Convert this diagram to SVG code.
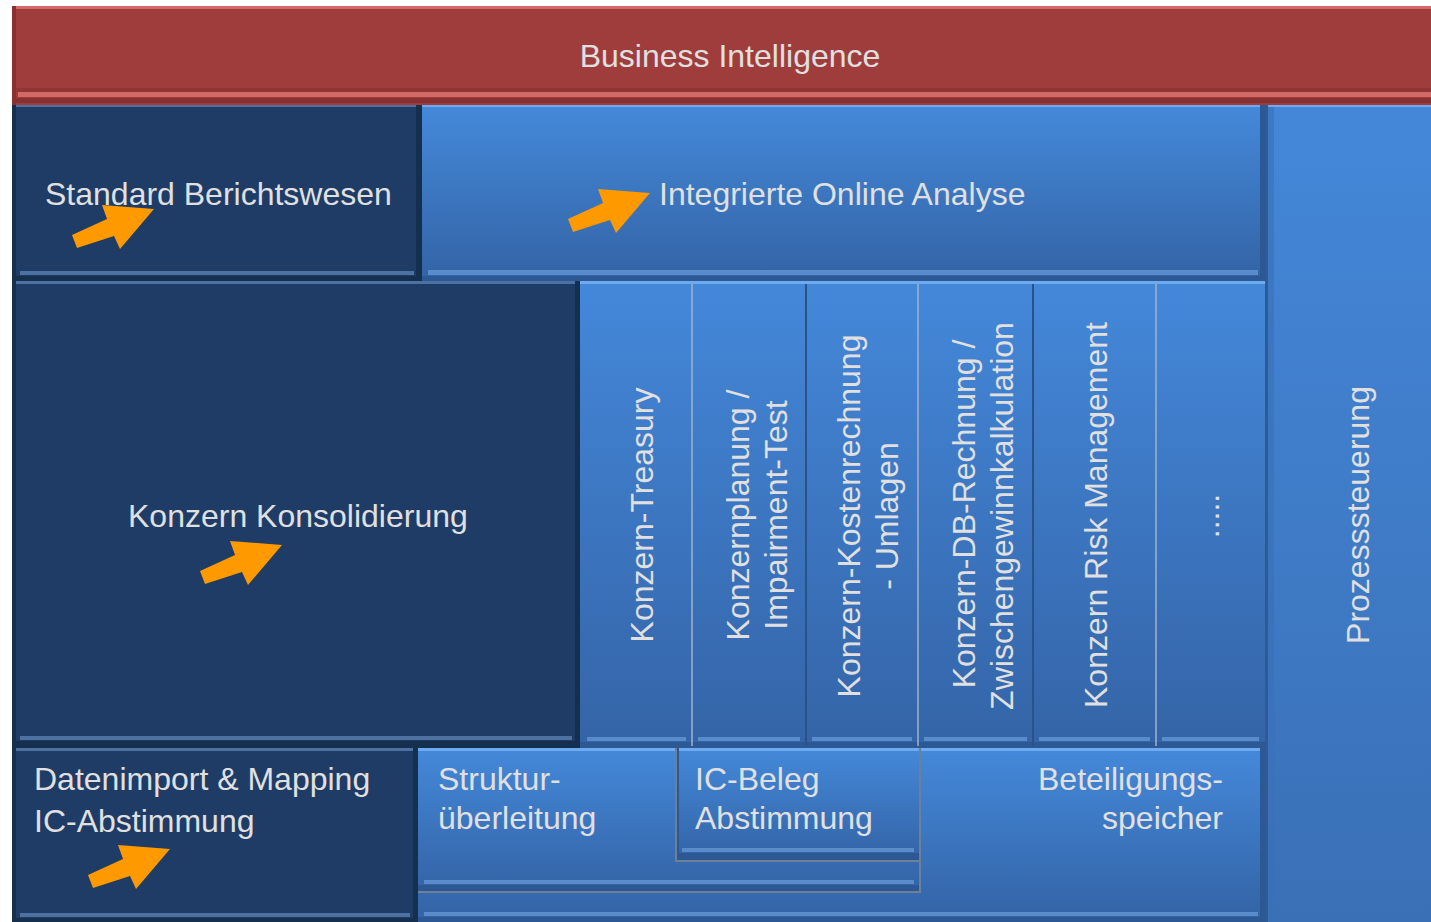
<svg xmlns="http://www.w3.org/2000/svg" width="1431" height="922" viewBox="0 0 1431 922">
<defs>
<linearGradient id="gBlue" x1="0" y1="0" x2="0" y2="1">
<stop offset="0" stop-color="#4489da"/><stop offset="1" stop-color="#3363a5"/>
</linearGradient>
<linearGradient id="gProc" x1="0" y1="0" x2="0" y2="1">
<stop offset="0" stop-color="#4487d9"/><stop offset="1" stop-color="#3a70b6"/>
</linearGradient>
<linearGradient id="gCol" x1="0" y1="0" x2="0" y2="1">
<stop offset="0" stop-color="#4488da"/><stop offset="1" stop-color="#3464a7"/>
</linearGradient>
<polygon id="arrow" points="0,0 -52,-4 -47,10 -82,26 -77,39 -40,27 -34,40"/>
</defs>
<style>
.t{font-family:"Liberation Sans",Arial,sans-serif;font-size:32px;fill:#e0e0e0}
.red{fill:#9f3d3c}.redhl{fill:#d26966}.redsh{fill:#873030}
.dark{fill:#1e3c66}.dkhl{fill:#4d71a0}.dksh{fill:#15304f}
.blue{fill:url(#gBlue)}.col{fill:url(#gCol)}.proc{fill:url(#gProc)}
.bhl{fill:#6eaaf0}.bst{fill:#5a8ccc}.bsh{fill:#2c5894}
.sep{stroke:#9fb3cc;stroke-width:1.5}
.sepd{stroke:#2a5188;stroke-width:2}
.frame{fill:none;stroke:#6f7f96;stroke-width:2}
.arr{fill:#ff9900}
</style>
<rect width="1431" height="922" fill="#ffffff"/>
<rect x="12" y="6" width="1419" height="916" fill="#2a4f82"/>

<g id="business-intelligence">
<rect class="red" x="12" y="6" width="1419" height="99"/>
<rect class="redhl" x="12" y="6" width="1419" height="3"/>
<rect class="redsh" x="12" y="6" width="4" height="99"/>
<rect class="redsh" x="12" y="88" width="1419" height="4" opacity="0.6"/>
<rect class="redhl" x="18" y="92" width="1413" height="5"/>
<rect class="redsh" x="12" y="98" width="1419" height="5"/>
<text class="t" x="730" y="67" text-anchor="middle">Business Intelligence</text>
</g>

<g id="standard-berichtswesen">
<rect class="dark" x="12" y="105" width="410" height="176"/>
<rect class="dkhl" x="12" y="105" width="410" height="2"/>
<rect class="dksh" x="12" y="105" width="4" height="176"/>
<rect class="dksh" x="416" y="105" width="6" height="176"/>
<rect class="dkhl" x="20" y="271" width="394" height="4"/>
<rect class="dksh" x="12" y="276" width="410" height="5"/>
<text class="t" x="45" y="205">Standard Berichtswesen</text>
<use href="#arrow" class="arr" x="154" y="209"/>
</g>

<g id="integrierte-online-analyse">
<rect class="blue" x="422" y="105" width="843" height="176"/>
<rect class="bhl" x="422" y="105" width="843" height="2"/>
<rect class="bsh" x="1260" y="105" width="5" height="176"/>
<rect class="bst" x="428" y="270" width="830" height="5"/>
<rect class="bsh" x="422" y="276" width="843" height="5"/>
<text class="t" x="659" y="205">Integrierte Online Analyse</text>
<use href="#arrow" class="arr" x="650" y="193"/>
</g>

<g id="prozesssteuerung">
<rect class="proc" x="1265" y="105" width="166" height="817"/>
<rect class="bhl" x="1265" y="105" width="166" height="2"/>
<rect fill="#2e5a96" x="1265" y="105" width="3" height="817"/>
<rect fill="#3a70b6" x="1268" y="107" width="6" height="815" opacity="0.6"/>
<text class="t" transform="translate(1369,515) rotate(-90)" text-anchor="middle">Prozesssteuerung</text>
</g>

<g id="konzern-konsolidierung">
<rect class="dark" x="12" y="281" width="568" height="467"/>
<rect class="dkhl" x="12" y="281" width="568" height="3"/>
<rect class="dksh" x="12" y="281" width="4" height="467"/>
<rect class="dksh" x="575" y="281" width="5" height="467"/>
<rect class="dkhl" x="20" y="736" width="552" height="4"/>
<rect class="dksh" x="12" y="741" width="568" height="7"/>
<text class="t" x="128" y="527">Konzern Konsolidierung</text>
<use href="#arrow" class="arr" x="282" y="545"/>
</g>

<g id="konzern-treasury">
<rect class="col" x="580" y="281" width="112" height="467"/>
<rect class="bhl" x="580" y="281" width="112" height="3"/>
<rect class="bst" x="587" y="737" width="99" height="4"/>
<rect class="bsh" x="580" y="742" width="112" height="6"/>
<text class="t" transform="translate(653,515) rotate(-90)" text-anchor="middle">Konzern-Treasury</text>
</g>

<g id="konzernplanung">
<rect class="col" x="692" y="281" width="114" height="467"/>
<rect class="bhl" x="692" y="281" width="114" height="3"/>
<rect class="bst" x="698" y="737" width="102" height="4"/>
<rect class="bsh" x="692" y="742" width="114" height="6"/>
<text class="t" transform="translate(749,515) rotate(-90)" text-anchor="middle">Konzernplanung /</text>
<text class="t" transform="translate(787,515) rotate(-90)" text-anchor="middle">Impairment-Test</text>
</g>

<g id="konzern-kostenrechnung">
<rect class="col" x="806" y="281" width="112" height="467"/>
<rect class="bhl" x="806" y="281" width="112" height="3"/>
<rect class="bst" x="812" y="737" width="100" height="4"/>
<rect class="bsh" x="806" y="742" width="112" height="6"/>
<text class="t" transform="translate(860,516) rotate(-90)" text-anchor="middle">Konzern-Kostenrechnung</text>
<text class="t" transform="translate(898,516) rotate(-90)" text-anchor="middle">- Umlagen</text>
</g>

<g id="konzern-db-rechnung">
<rect class="col" x="918" y="281" width="115" height="467"/>
<rect class="bhl" x="918" y="281" width="115" height="3"/>
<rect class="bst" x="924" y="737" width="103" height="4"/>
<rect class="bsh" x="918" y="742" width="115" height="6"/>
<text class="t" transform="translate(975,514) rotate(-90)" text-anchor="middle">Konzern-DB-Rechnung /</text>
<text class="t" transform="translate(1013,516) rotate(-90)" text-anchor="middle">Zwischengewinnkalkulation</text>
</g>

<g id="konzern-risk-management">
<rect class="col" x="1033" y="281" width="123" height="467"/>
<rect class="bhl" x="1033" y="281" width="123" height="3"/>
<rect class="bst" x="1039" y="737" width="111" height="4"/>
<rect class="bsh" x="1033" y="742" width="123" height="6"/>
<text class="t" transform="translate(1107,515) rotate(-90)" text-anchor="middle">Konzern Risk Management</text>
</g>

<g id="weitere">
<rect class="col" x="1156" y="281" width="109" height="467"/>
<rect class="bhl" x="1156" y="281" width="109" height="3"/>
<rect class="bst" x="1162" y="737" width="97" height="4"/>
<rect class="bsh" x="1156" y="742" width="109" height="6"/>
<text class="t" transform="translate(1219,516) rotate(-90)" text-anchor="middle">.....</text>
</g>

<g id="column-separators">
<line class="sep" x1="692" y1="284" x2="692" y2="746"/>
<line class="sepd" x1="806" y1="284" x2="806" y2="746"/>
<line class="sep" x1="918" y1="284" x2="918" y2="746"/>
<line class="sepd" x1="1033" y1="284" x2="1033" y2="746"/>
<line class="sep" x1="1156" y1="284" x2="1156" y2="746"/>
</g>

<g id="datenimport">
<rect class="dark" x="12" y="748" width="406" height="174"/>
<rect class="dkhl" x="12" y="748" width="406" height="3"/>
<rect class="dksh" x="12" y="748" width="4" height="174"/>
<rect class="dksh" x="413" y="748" width="5" height="174"/>
<rect class="dkhl" x="20" y="913" width="390" height="4"/>
<rect class="dksh" x="12" y="918" width="406" height="4"/>
<text class="t" x="34" y="790">Datenimport &amp; Mapping</text>
<text class="t" x="34" y="832">IC-Abstimmung</text>
<use href="#arrow" class="arr" x="170" y="849"/>
</g>

<g id="beteiligungsspeicher">
<rect class="blue" x="418" y="748" width="847" height="174"/>
<rect class="bhl" x="418" y="748" width="847" height="3"/>
<rect class="bsh" x="1260" y="748" width="5" height="174"/>
<rect class="bst" x="424" y="912" width="834" height="4"/>
<rect class="bsh" x="418" y="917" width="847" height="5"/>
<text class="t" x="1223" y="790" text-anchor="end">Beteiligungs-</text>
<text class="t" x="1223" y="829" text-anchor="end">speicher</text>
</g>

<g id="strukturueberleitung">
<rect class="blue" x="418" y="748" width="502" height="145"/>
<rect class="bhl" x="418" y="748" width="502" height="3"/>
<rect class="bst" x="424" y="880" width="490" height="4"/>
<rect class="bsh" x="418" y="885" width="502" height="7"/>
<path class="frame" d="M418,892 H920 V748"/>
<text class="t" x="438" y="790">Struktur-</text>
<text class="t" x="438" y="829">überleitung</text>
</g>

<g id="ic-beleg-abstimmung">
<rect class="blue" x="676" y="748" width="244" height="113"/>
<rect class="bhl" x="676" y="748" width="244" height="3"/>
<rect class="bsh" x="676" y="748" width="3" height="113"/>
<rect class="bst" x="682" y="848" width="232" height="4"/>
<rect class="bsh" x="676" y="853" width="244" height="7"/>
<path class="frame" d="M676,748 V861 H920 V748"/>
<text class="t" x="695" y="790">IC-Beleg</text>
<text class="t" x="695" y="829">Abstimmung</text>
</g>
</svg>
